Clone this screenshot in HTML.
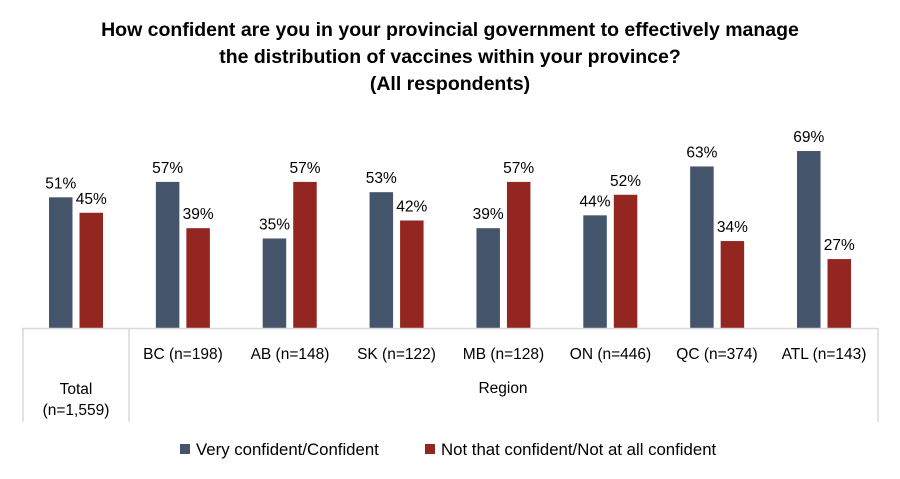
<!DOCTYPE html>
<html><head><meta charset="utf-8"><style>
body{margin:0;background:#fff;}
svg{display:block;font-family:"Liberation Sans",sans-serif;}
</style></head><body>
<svg width="900" height="479" viewBox="0 0 900 479">
<g font-weight="bold" font-size="19.5" text-anchor="middle" fill="#000">
<text x="450" y="36">How confident are you in your provincial government to effectively manage</text>
<text x="450" y="63">the distribution of vaccines within your province?</text>
<text x="450" y="90">(All respondents)</text>
</g>
<g fill="#44546a">
<rect x="49" y="197.33" width="23.5" height="131.17"/>
<rect x="155.86" y="181.9" width="23.5" height="146.6"/>
<rect x="262.72" y="238.48" width="23.5" height="90.02"/>
<rect x="369.58" y="192.18" width="23.5" height="136.32"/>
<rect x="476.44" y="228.19" width="23.5" height="100.31"/>
<rect x="583.3" y="215.33" width="23.5" height="113.17"/>
<rect x="690.16" y="166.46" width="23.5" height="162.04"/>
<rect x="797.02" y="151.03" width="23.5" height="177.47"/>
</g>
<g fill="#942622">
<rect x="79.5" y="212.76" width="23.5" height="115.74"/>
<rect x="186.36" y="228.19" width="23.5" height="100.31"/>
<rect x="293.22" y="181.9" width="23.5" height="146.6"/>
<rect x="400.08" y="220.48" width="23.5" height="108.02"/>
<rect x="506.94" y="181.9" width="23.5" height="146.6"/>
<rect x="613.8" y="194.76" width="23.5" height="133.74"/>
<rect x="720.66" y="241.05" width="23.5" height="87.45"/>
<rect x="827.52" y="259.06" width="23.5" height="69.44"/>
</g>
<g font-size="15.5" text-anchor="middle" fill="#000">
<text x="60.75" y="188.3">51%</text><text x="91.25" y="203.8">45%</text>
<text x="167.6" y="172.9">57%</text><text x="198.1" y="219.2">39%</text>
<text x="274.5" y="229.5">35%</text><text x="305" y="172.9">57%</text>
<text x="381.3" y="183.2">53%</text><text x="411.8" y="211.5">42%</text>
<text x="488.2" y="219.2">39%</text><text x="518.7" y="172.9">57%</text>
<text x="595" y="206.3">44%</text><text x="625.5" y="185.8">52%</text>
<text x="701.9" y="157.5">63%</text><text x="732.4" y="232">34%</text>
<text x="808.8" y="142">69%</text><text x="839.3" y="250">27%</text>
</g>
<line x1="22" y1="328.5" x2="878" y2="328.5" stroke="#d9d9d9" stroke-width="1.5"/>
<line x1="23" y1="328" x2="23" y2="422" stroke="#d9d9d9" stroke-width="1.5"/>
<line x1="129" y1="328" x2="129" y2="422" stroke="#d9d9d9" stroke-width="1.5"/>
<line x1="878" y1="328" x2="878" y2="422" stroke="#d9d9d9" stroke-width="1.5"/>
<g font-size="15.5" fill="#000" text-anchor="middle">
<text x="183" y="359">BC (n=198)</text>
<text x="290" y="359">AB (n=148)</text>
<text x="396.5" y="359">SK (n=122)</text>
<text x="503.5" y="359">MB (n=128)</text>
<text x="610.5" y="359">ON (n=446)</text>
<text x="717" y="359">QC (n=374)</text>
<text x="824" y="359">ATL (n=143)</text>
<text x="76" y="394">Total</text>
<text x="76" y="415">(n=1,559)</text>
<text x="503" y="393">Region</text>
</g>
<rect x="180" y="444" width="10" height="10" fill="#44546a"/>
<text x="196" y="455" font-size="16.8">Very confident/Confident</text>
<rect x="425" y="444" width="10" height="10" fill="#942622"/>
<text x="441" y="455" font-size="16.8">Not that confident/Not at all confident</text>
</svg>
</body></html>
